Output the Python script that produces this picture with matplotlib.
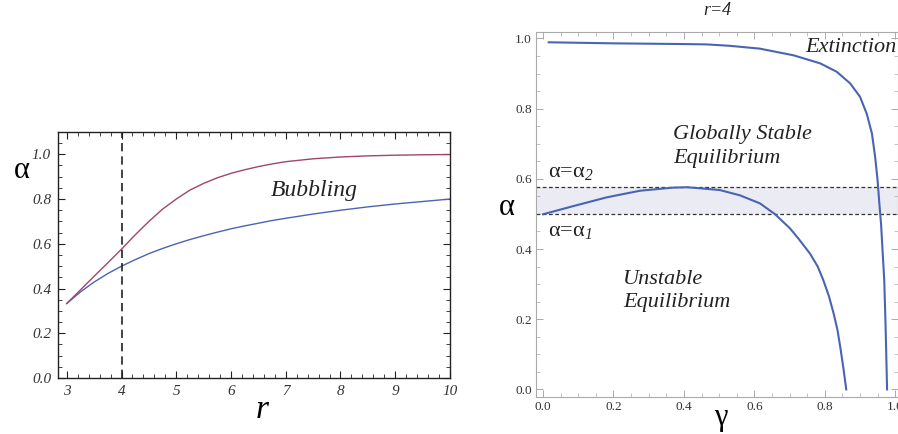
import matplotlib.pyplot as plt
from matplotlib.ticker import MultipleLocator

# left panel: alpha_1 (blue) and alpha_2 (red) against r
r_vals = [3.0, 3.25, 3.5, 3.75, 4.0, 4.25, 4.5, 4.75, 5.0, 5.25, 5.5, 5.75, 6.0,
          6.25, 6.5, 6.75, 7.0, 7.5, 8.0, 8.5, 9.0, 9.5, 10.0]
alpha1_vals = [0.333, 0.385, 0.429, 0.467, 0.5, 0.529, 0.556, 0.579, 0.6, 0.619, 0.636,
               0.652, 0.667, 0.68, 0.692, 0.704, 0.714, 0.733, 0.75, 0.765, 0.778, 0.789, 0.8]
alpha2_vals = [0.333, 0.394, 0.455, 0.515, 0.576, 0.640, 0.70, 0.755, 0.80, 0.840, 0.870,
               0.895, 0.915, 0.931, 0.945, 0.957, 0.967, 0.98, 0.988, 0.993, 0.996, 0.998, 0.999]
r_marker = 4

# right panel (r=4): boundaries in the gamma-alpha plane
gamma_upper = [0.016, 0.2, 0.4, 0.464, 0.53, 0.615, 0.711, 0.787, 0.834, 0.872, 0.9,
               0.919, 0.934, 0.943, 0.95, 0.955, 0.96, 0.965, 0.969, 0.973, 0.977]
alpha_upper = [0.989, 0.986, 0.984, 0.983, 0.979, 0.971, 0.952, 0.929, 0.905, 0.872, 0.834,
               0.786, 0.729, 0.663, 0.596, 0.53, 0.47, 0.38, 0.31, 0.17, 0.0]
gamma_lower = [0.0, 0.085, 0.18, 0.275, 0.37, 0.41, 0.446, 0.502, 0.559, 0.616, 0.659,
               0.701, 0.725, 0.758, 0.78, 0.796, 0.812, 0.825, 0.836, 0.844, 0.853, 0.861]
alpha_lower = [0.499, 0.522, 0.547, 0.566, 0.575, 0.576, 0.573, 0.568, 0.553, 0.530, 0.499,
               0.459, 0.430, 0.387, 0.35, 0.311, 0.265, 0.217, 0.17, 0.121, 0.06, 0.0]
alpha_1 = 0.5
alpha_2 = 0.577

blue = '#4a64b4'
red = '#a0456e'
serif = 'Liberation Serif'
plt.rcParams['mathtext.fontset'] = 'custom'
plt.rcParams['mathtext.rm'] = 'Liberation Serif'
plt.rcParams['mathtext.sf'] = 'Liberation Serif:style=italic'

fig = plt.figure(figsize=(8.98, 4.34), dpi=100)

ax0 = fig.add_axes([0.0646, 0.129, 0.4365, 0.567])
ax0.plot(r_vals, alpha1_vals, color=blue, lw=1.0)
ax0.plot(r_vals, alpha2_vals, color=red, lw=1.0)
ax0.axvline(r_marker, color='#222222', lw=1.2, ls=(0, (5, 3)))
ax0.set_xlim(2.84, 10.0)
ax0.set_ylim(0, 1.1)
ax0.xaxis.set_minor_locator(MultipleLocator(0.2))
ax0.yaxis.set_minor_locator(MultipleLocator(0.05))
ax0.set_xticks(range(3, 11))
ax0.set_xticklabels([str(v) for v in range(3, 11)])
ax0.set_yticks([0, 0.2, 0.4, 0.6, 0.8, 1.0])
ax0.set_yticklabels(['0.0', '0.2', '0.4', '0.6', '0.8', '1.0'])
ax0.tick_params(which='both', direction='in', top=True, right=True, color='#222222')
ax0.tick_params(which='major', length=5, width=0.8, labelsize=11, pad=5)
ax0.tick_params(which='minor', length=3, width=0.6)
for lab in ax0.get_xticklabels() + ax0.get_yticklabels():
    lab.set_fontfamily(serif)
    lab.set_fontstyle('italic')
    lab.set_color('#333333')
for sp in ax0.spines.values():
    sp.set_color('#222222')
    sp.set_linewidth(1.0)
ax0.text(6.72, 0.84, 'Bubbling', fontsize=17, fontstyle='italic', family=serif,
         color='#222222', va='center')
fig.text(0.024, 0.607, 'α', fontsize=22, family=serif, ha='center', va='center')
fig.text(0.292, 0.055, 'r', fontsize=24, family=serif, fontstyle='italic', ha='center', va='center')

ax1 = fig.add_axes([0.5969, 0.085, 0.4031, 0.841])
ax1.axhspan(alpha_1, alpha_2, color='#ebebf3', lw=0)
ax1.axhline(alpha_2, color='#333333', lw=0.9, ls=(0, (3, 2)))
ax1.axhline(alpha_1, color='#333333', lw=0.9, ls=(0, (3, 2)))
ax1.plot(gamma_upper, alpha_upper, color=blue, lw=1.5)
ax1.plot(gamma_lower, alpha_lower, color=blue, lw=1.5)
ax1.set_xlim(-0.02, 1.008)
ax1.set_ylim(-0.022, 1.018)
ax1.xaxis.set_minor_locator(MultipleLocator(0.05))
ax1.yaxis.set_minor_locator(MultipleLocator(0.05))
ax1.set_xticks([0, 0.2, 0.4, 0.6, 0.8, 1.0])
ax1.set_xticklabels(['0.0', '0.2', '0.4', '0.6', '0.8', '1.0'])
ax1.set_yticks([0, 0.2, 0.4, 0.6, 0.8, 1.0])
ax1.set_yticklabels(['0.0', '0.2', '0.4', '0.6', '0.8', '1.0'])
ax1.tick_params(which='both', direction='in', top=True, right=True, color='#aaaaaa')
ax1.tick_params(which='major', length=5, width=0.7, labelsize=9.5, pad=3)
ax1.tick_params(which='minor', length=3, width=0.5)
for lab in ax1.get_xticklabels() + ax1.get_yticklabels():
    lab.set_fontfamily(serif)
    lab.set_color('#333333')
for sp in ax1.spines.values():
    sp.set_color('#aaaaaa')
    sp.set_linewidth(0.8)
ax1.text(0.015, 0.605, r'α=α$_{\mathsf{2}}$', fontsize=16, family=serif, color='#222222')
ax1.text(0.015, 0.435, r'α=α$_{\mathsf{1}}$', fontsize=16, family=serif, color='#222222')
ax1.text(0.37, 0.645, 'Globally Stable\nEquilibrium', fontsize=16, fontstyle='italic',
         family=serif, color='#222222', linespacing=1.35)
ax1.text(0.228, 0.235, 'Unstable\nEquilibrium', fontsize=16, fontstyle='italic',
         family=serif, color='#222222', linespacing=1.3)
ax1.text(0.745, 0.96, 'Extinction', fontsize=16, fontstyle='italic',
         family=serif, color='#222222')
ax1.set_title('r=4', fontsize=13, fontstyle='italic', family=serif, pad=12, color='#222222')
fig.text(0.564, 0.523, 'α', fontsize=22, family=serif, ha='center', va='center')
fig.text(0.8025, 0.038, 'γ', fontsize=22, family=serif, ha='center', va='center')

fig.savefig('out.png', dpi=100)
